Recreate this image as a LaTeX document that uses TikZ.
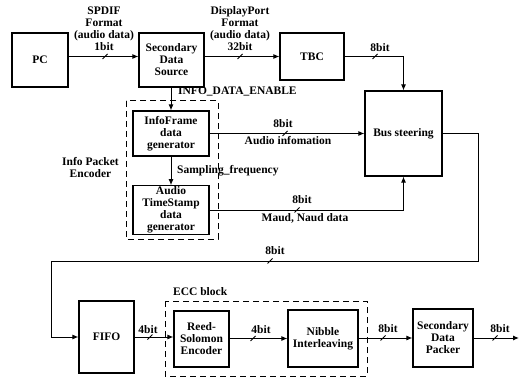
\documentclass[tikz,border=0pt]{standalone}
\usepackage{fontspec}
\setmainfont{Liberation Serif}
\usetikzlibrary{arrows.meta,positioning,calc}
\begin{document}
\begin{tikzpicture}[x=1pt,y=-1pt,
  font=\fontsize{11.5}{12}\selectfont\bfseries,
  box/.style={draw,line width=1.1pt,align=center,inner sep=1pt},
  grp/.style={draw,line width=1pt,dash pattern=on 6pt off 4pt},
  arr/.style={line width=1pt,-{Latex[length=6pt,width=5pt]}},
  ln/.style={line width=1pt},
  lbl/.style={inner sep=0pt,align=center},
  slash/.pic={\draw[line width=0.8pt] (-2.5,2.5) -- (2.5,-2.5);}
]
\useasboundingbox (0,0) rectangle (522,377);
% group boxes
\draw[grp] (126,101) rectangle (218,239);
\draw[grp] (165,301) rectangle (367,376);
% blocks
\node[box,minimum width=56pt,minimum height=54pt] (pc) at (40,60) {PC};
\node[box,minimum width=65pt,minimum height=54pt] (sds) at (171.5,60) {Secondary\\Data\\Source};
\node[box,minimum width=64pt,minimum height=47pt] (tbc) at (312,56.5) {TBC};
\node[box,minimum width=77pt,minimum height=85pt] (bus) at (403.5,133.5) {Bus steering};
\node[box,minimum width=76pt,minimum height=45pt] (if) at (171,133.5) {InfoFrame\\data\\generator};
\node[box,minimum width=76pt,minimum height=46pt] (ats) at (171,210) {Audio\\TimeStamp\\data\\generator};
\node[box,minimum width=55pt,minimum height=72pt] (fifo) at (106.5,337) {FIFO};
\node[box,minimum width=55pt,minimum height=56pt] (rs) at (201.5,339) {Reed-\\Solomon\\Encoder};
\node[box,minimum width=70pt,minimum height=57pt] (ni) at (323,338.5) {Nibble\\Interleaving};
\node[box,minimum width=60pt,minimum height=58pt] (sdp) at (443,338) {Secondary\\Data\\Packer};
% helper coordinates
\coordinate (c1) at (478,261);
\coordinate (c2) at (51,261);
\coordinate (out) at (519,338);
% connectors
\draw[arr] (pc.east |- tbc.west) -- (sds.west |- tbc.west);
\draw[arr] (sds.east |- tbc.west) -- (tbc.west);
\draw[arr] (tbc.east) -| (bus.north);
\draw[arr] (sds.south -| if.north) -- (if.north);
\draw[arr] (if.south) -- (ats.north);
\draw[arr] (if.east) -- (bus.west |- if.east);
\draw[arr] (ats.east) -| (bus.south);
\draw[arr] (bus.east) -| (c1) -- (c2) |- (fifo.west);
\draw[arr] (fifo.east) -- (rs.west |- fifo.east);
\draw[arr] (rs.east |- ni.west) -- (ni.west);
\draw[arr] (ni.east |- sdp.west) -- (sdp.west);
\draw[arr] (sdp.east) -- (out |- sdp.east);
% ticks
\pic at (105,56.5) {slash};
\pic at (240,56.5) {slash};
\pic at (375,56.5) {slash};
\pic at (285,133.5) {slash};
\pic at (297,210) {slash};
\pic at (270,261) {slash};
\pic at (150,337) {slash};
\pic at (253,338.5) {slash};
\pic at (383,338) {slash};
\pic at (495,338) {slash};
% labels
\node[lbl] (l1) at (104,29) {SPDIF\\Format\\(audio data)\\1bit};
\node[lbl] (l2) at (240,29) {DisplayPort\\Format\\(audio data)\\32bit};
\node[lbl] (l3) at (380,48) {8bit};
\node[lbl,anchor=west] (l4) at (178,91) {INFO\_DATA\_ENABLE};
\node[lbl] (l5) at (283,124) {8bit};
\node[lbl] (l6) at (288,141) {Audio infomation};
\node[lbl,anchor=west] (l7) at (177,171) {Sampling\_frequency};
\node[lbl] (l8) at (90.5,167.5) {Info Packet\\Encoder};
\node[lbl] (l9) at (302,200) {8bit};
\node[lbl] (l10) at (305,218) {Maud, Naud data};
\node[lbl] (l11) at (275,251) {8bit};
\node[lbl,anchor=west] (l12) at (173,292) {ECC block};
\node[lbl] (l13) at (148,330) {4bit};
\node[lbl] (l14) at (261,330) {4bit};
\node[lbl] (l15) at (388,329) {8bit};
\node[lbl] (l16) at (500,329) {8bit};
\end{tikzpicture}
\end{document}
